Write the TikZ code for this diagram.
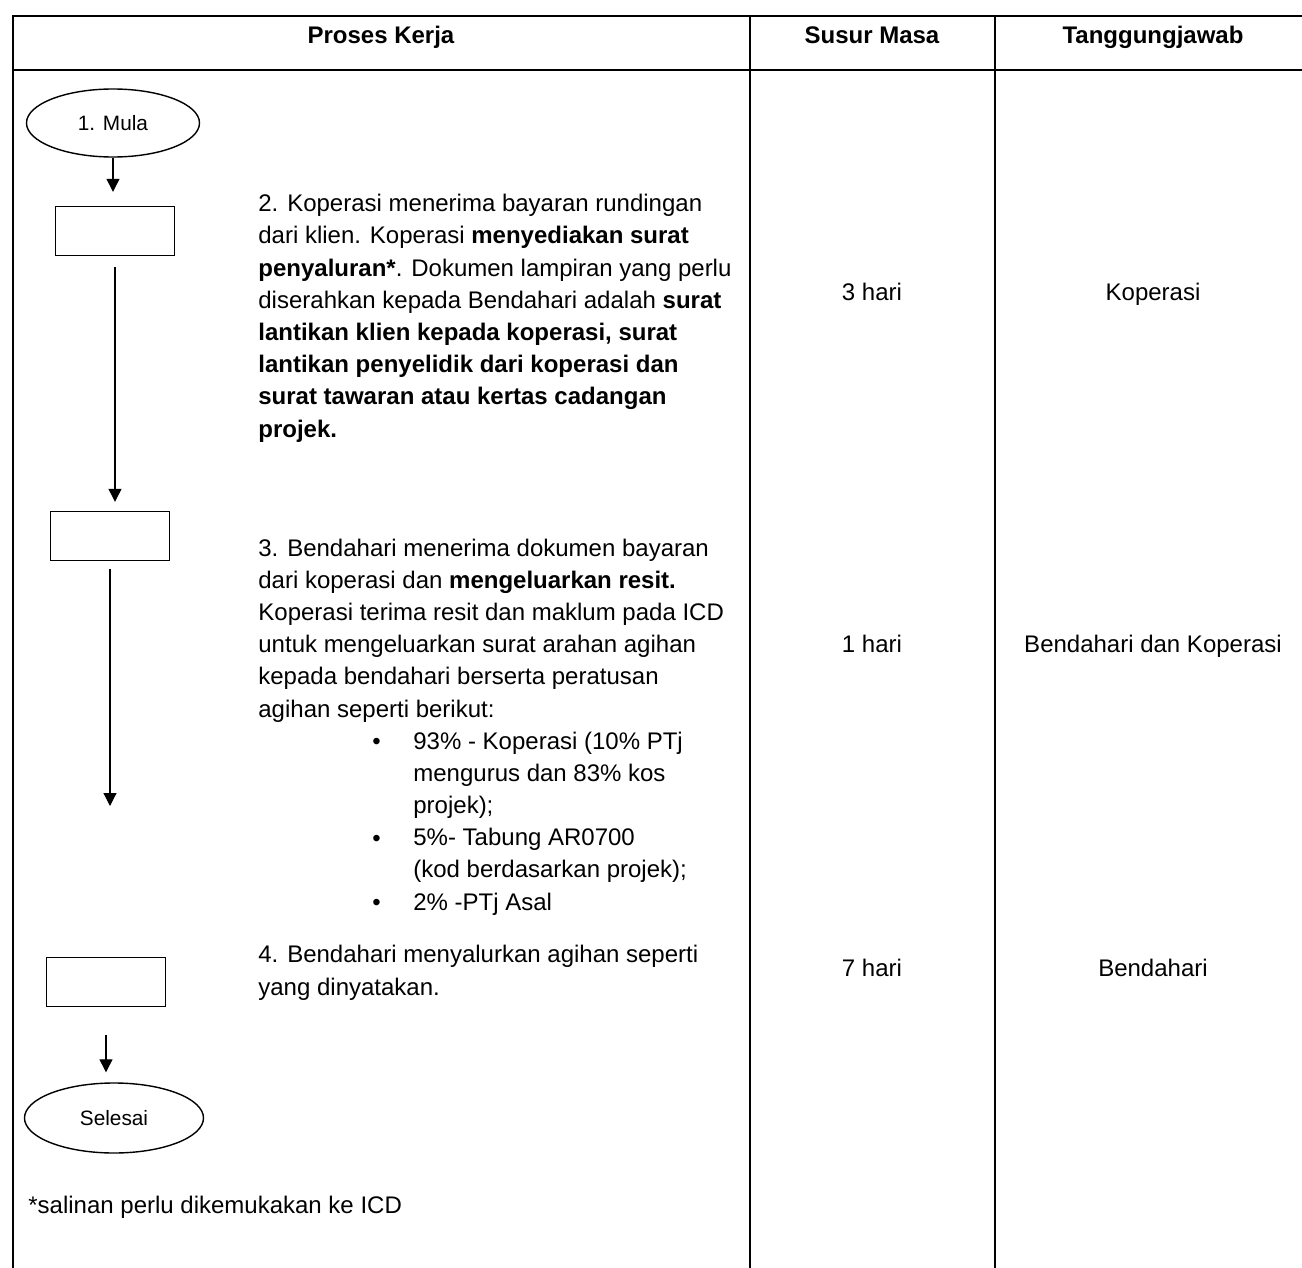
\documentclass[tikz,border=0pt]{standalone}
\usepackage{fontspec}
\setmainfont{Liberation Sans}
\usetikzlibrary{shapes.geometric,arrows.meta}

\tikzset{
  termin/.style={ellipse,draw,line width=0.7pt,minimum width=86.5pt,minimum height=34pt,
    inner sep=0pt,font=\fontsize{10.4}{12}\selectfont},
  procbox/.style={rectangle,draw,line width=0.7pt,minimum width=59.5pt,minimum height=24.5pt,inner sep=0pt},
  flow/.style={-{Triangle[length=6.5pt,width=6.5pt]},line width=0.6pt},
  para/.style={anchor=base west,align=left,inner sep=0pt,font=\fontsize{12}{16.1}\selectfont},
  cell/.style={anchor=base,inner sep=0pt,font=\fontsize{12}{16}\selectfont},
  head/.style={cell,font=\fontsize{12}{16}\selectfont\bfseries},
  rule/.style={line width=1pt}
}

\begin{document}
\begin{tikzpicture}[x=0.5pt,y=-0.5pt]
\useasboundingbox (0,0) rectangle (1302,1268);
% table frame
\draw[rule] (13,1268) -- (13,16) -- (1302,16);
\draw[rule] (13,70) -- (1302,70);
\draw[rule] (750,16) -- (750,1268);
\draw[rule] (995,16) -- (995,1268);
\node[head] (hproc) at (381,44) {Proses Kerja};
\node[head] (htime) at (872,44) {Susur Masa};
\node[head] (hwho) at (1153,44) {Tanggungjawab};

% flow chart
\node[termin] (start) at (113,123) {1. Mula};
\node[procbox] (b1) at (115,231) {};
\node[procbox] (b2) at (110,536) {};
\node[procbox] (b3) at (106,982) {};
\node[termin,minimum width=89.5pt,minimum height=35pt] (done) at (114,1118) {Selesai};
\coordinate (b2end) at (110,806);
\draw[flow,shorten >=7pt] (start.south) -- (start.south |- b1.north);
\draw[flow,shorten <=5.5pt,shorten >=4.5pt] (b1.south) -- (b1.south |- b2.north);
\draw[flow,shorten <=4pt] (b2.south) -- (b2end);
\draw[flow,shorten <=14pt,shorten >=5pt] (b3.south) -- (b3.south |- done.north);

% steps (placed at the baseline of the last line)
\node[para] (t2) at (258,437) {2. Koperasi menerima bayaran rundingan\\
  dari klien. Koperasi \textbf{menyediakan surat}\\
  \textbf{penyaluran*}. Dokumen lampiran yang perlu\\
  diserahkan kepada Bendahari adalah \textbf{surat}\\
  \textbf{lantikan klien kepada koperasi, surat}\\
  \textbf{lantikan penyelidik dari koperasi dan}\\
  \textbf{surat tawaran atau kertas cadangan}\\
  \textbf{projek.}};
\node[para] (t3) at (258,717) {3. Bendahari menerima dokumen bayaran\\
  dari koperasi dan \textbf{mengeluarkan resit.}\\
  Koperasi terima resit dan maklum pada ICD\\
  untuk mengeluarkan surat arahan agihan\\
  kepada bendahari berserta peratusan\\
  agihan seperti berikut:};
\node[para] (t3list) at (413,910) {93\% - Koperasi (10\% PTj\\
  mengurus dan 83\% kos\\
  projek);\\
  5\%- Tabung AR0700\\
  (kod berdasarkan projek);\\
  2\% -PTj Asal};
\foreach \y/\n in {749/1,846/2,910/3}
  \node[para] (dot\n) at (372,\y) {•};
\node[para] (t4) at (258,995) {4. Bendahari menyalurkan agihan seperti\\
  yang dinyatakan.};
\node[para] (note) at (28,1213) {*salinan perlu dikemukakan ke ICD};

% time and owner
\node[cell] (d2) at (872,300) {3 hari};
\node[cell] (r2) at (1153,300) {Koperasi};
\node[cell] (d3) at (872,652) {1 hari};
\node[cell] (r3) at (1153,652) {Bendahari dan Koperasi};
\node[cell] (d4) at (872,976) {7 hari};
\node[cell] (r4) at (1153,976) {Bendahari};
\end{tikzpicture}
\end{document}
